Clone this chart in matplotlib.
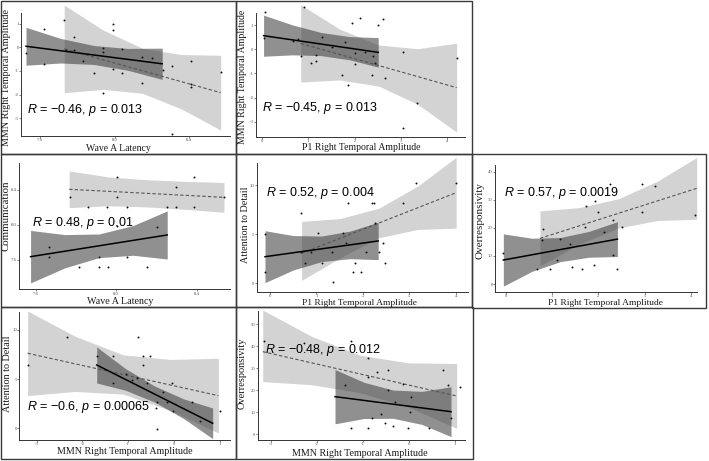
import matplotlib
matplotlib.use("Agg")
import matplotlib.pyplot as plt
from matplotlib.patches import Rectangle

plt.rcParams['axes.unicode_minus'] = False
plt.rcParams['mathtext.fontset'] = 'custom'
plt.rcParams['mathtext.it'] = 'Liberation Sans:italic'
plt.rcParams['mathtext.rm'] = 'Liberation Sans'
plt.rcParams['font.family'] = ['Liberation Serif', 'DejaVu Serif']

W, H = 709, 461

# ---------------- Panel 1: Wave A Latency vs MMN Right Temporal Amplitude
p1_x = [7.525, 7.623, 7.623, 7.73, 7.78, 7.78, 7.74, 7.83, 7.89, 7.94, 7.94, 7.94, 7.99, 7.99, 7.99,
        8.04, 8.04, 8.15, 8.15, 8.20, 8.26, 8.31, 8.31, 8.41, 8.41, 8.41, 8.57]
p1_y = [-0.23, 0.75, -0.73, 1.14, 0.44, -0.10, -0.13, -0.59, -1.07, -0.03, -0.20, -1.93, 1.0, 0.72, -0.90,
        -0.08, -1.11, -0.41, -1.51, -0.44, -0.97, -0.79, -3.68, -0.59, -1.54, -1.68, -1.04]
p1_dark_x = [7.525, 7.71, 7.89, 8.07, 8.256]
p1_dark_lo = [-0.76, -0.667, -0.729, -0.971, -1.36]
p1_dark_hi = [0.84, 0.373, 0.071, -0.051, -0.04]
p1_dark_line = ([7.525, 8.256], [0.04, -0.70])
p1_light_x = [7.73, 7.94, 8.15, 8.36, 8.57]
p1_light_lo = [-1.92, -1.78, -1.945, -2.61, -3.50]
p1_light_hi = [1.78, 0.72, -0.045, -0.31, -0.34]
p1_light_line = ([7.73, 8.57], [-0.07, -1.92])
p1_xticks = [7.6, 8.0, 8.4]
p1_xticklabels = ['7.6', '8.0', '8.4']
p1_yticks = [-3, -2, -1, 0, 1]
p1_label = "$R$ = \u22120.46, $p$ = 0.013"

# ---------------- Panel 2: P1 Right Temporal Amplitude vs MMN
p2_x = [0.06, 0.04, 0.90, 0.68, 0.79, 0.84, 1.06, 1.18, 1.18, 1.29, 1.51, 1.74, 1.80, 1.85, 1.95, 2.01, 2.01,
        2.12, 2.23, 2.37, 2.39, 2.43, 2.51, 2.61, 2.66, 3.05, 3.34, 3.05, 4.2]
p2_y = [1.52, 0.45, 1.73, 0.35, 0.42, -0.28, -0.59, -0.49, -0.24, 0.52, 0.08, -1.07, 0.31, -1.48, 1.10, -0.17,
        -0.61, 1.28, -0.10, -1.07, -0.27, -0.59, 1.0, 1.25, -1.21, -0.10, -2.24, -3.28, -0.38]
p2_dark_x = [0.04, 0.66, 1.27, 1.89, 2.51]
p2_dark_lo = [-0.29, -0.233, -0.264, -0.437, -0.74]
p2_dark_hi = [1.41, 1.007, 0.696, 0.523, 0.48]
p2_dark_line = ([0.04, 2.51], [0.56, -0.13])
p2_light_x = [0.84, 1.68, 2.52, 3.36, 4.2]
p2_light_lo = [-1.36, -1.27, -1.525, -2.28, -3.43]
p2_light_hi = [1.84, 0.83, 0.175, 0.02, 0.25]
p2_light_line = ([0.84, 4.2], [0.24, -1.59])
p2_xticks = [0, 1, 2, 3, 4]
p2_yticks = [-3, -2, -1, 0, 1]
p2_label = "$R$ = \u22120.45, $p$ = 0.013"

# ---------------- Panel 3: Wave A Latency vs Communication
p3_x = [7.77, 7.862, 7.956, 8.006, 8.006, 8.052, 8.251, 8.297, 8.297, 8.388, 8.388, 8.536, 8.006, 8.201,
        7.668, 7.668, 7.815, 7.915, 7.915, 7.961, 8.052, 8.152]
p3_y = [8.316, 8.20, 8.20, 8.552, 8.316, 8.20, 8.20, 8.43, 8.20, 8.552, 8.20, 8.316, 7.99, 7.973,
        7.752, 7.63, 7.524, 7.63, 7.524, 7.524, 7.63, 7.524]
p3_dark_x = [7.575, 7.745, 7.915, 8.085, 8.254]
p3_dark_lo = [7.338, 7.51, 7.627, 7.654, 7.611]
p3_dark_hi = [7.938, 7.89, 7.897, 7.994, 8.161]
p3_dark_line = ([7.575, 8.254], [7.638, 7.886])
p3_light_x = [7.767, 7.959, 8.151, 8.344, 8.536]
p3_light_lo = [8.198, 8.22, 8.207, 8.179, 8.146]
p3_light_hi = [8.618, 8.55, 8.517, 8.499, 8.486]
p3_light_line = ([7.767, 8.536], [8.408, 8.316])
p3_xticks = [7.6, 8.0, 8.4]
p3_xticklabels = ['7.6', '8.0', '8.4']
p3_yticks = [7.6, 8.0, 8.4]
p3_yticklabels = ['7.6', '8.0', '8.4']
p3_label = "$R$ = 0.48, $p$ = 0.01"

# ---------------- Panel 4: P1 Right Temporal Amplitude vs Attention to Detail
p4_x = [-0.108, -0.108, 0.67, 0.67, 0.75, 0.88, 1.03, 1.11, 1.33, 1.36, 1.58, 1.63, 1.68, 1.79, 1.84,
        1.96, 2.06, 2.19, 2.23, 2.26, 2.34, 2.44, 2.47, 2.87, 3.15, 4.01]
p4_y = [4.98, 1.12, 7.19, 3.15, 2.1, 3.15, 5.15, 2.1, 3.15, 0.17, 5.15, 4.14, 8.2, 1.12, 2.1,
        1.12, 3.15, 8.2, 8.2, 6.17, 3.15, 4.14, 2.1, 8.2, 10.17, 10.17]
p4_dark_x = [-0.108, 0.5, 1.11, 1.72, 2.33]
p4_dark_lo = [0.07, 1.36, 2.21, 2.51, 2.41]
p4_dark_hi = [5.35, 4.86, 4.81, 5.31, 6.21]
p4_dark_line = ([-0.108, 2.33], [2.71, 4.31])
p4_light_x = [0.68, 1.51, 2.345, 3.18, 4.01]
p4_light_lo = [0.3, 2.59, 4.64, 5.48, 5.62]
p4_light_hi = [6.3, 6.59, 7.64, 9.88, 12.82]
p4_light_line = ([0.68, 4.01], [3.05, 9.22])
p4_xticks = [0, 1, 2, 3, 4]
p4_yticks = [0, 5, 10]
p4_label = "$R$ = 0.52, $p$ = 0.004"

# ---------------- Panel 5: P1 Right Temporal Amplitude vs Overresponsivity
p5_x = [-0.05, 0.67, 0.78, 0.80, 0.96, 1.10, 1.17, 1.39, 1.42, 1.64, 1.71, 1.73, 1.91, 1.93, 2.0, 2.12,
        2.25, 2.31, 2.31, 2.41, 2.5, 2.95, 2.95, 3.22, 4.09]
p5_y = [11.16, 5.22, 15.67, 19.47, 5.22, 8.55, 16.0, 14.24, 5.93, 5.22, 20.4, 27.77, 6.77, 29.55, 25.5, 18.6,
        35.6, 22.8, 10.33, 5.22, 20.4, 35.6, 25.5, 34.9, 24.6]
p5_dark_x = [-0.05, 0.565, 1.18, 1.795, 2.41]
p5_dark_lo = [-0.75, 4.51, 7.98, 9.54, 9.8]
p5_dark_hi = [17.85, 16.31, 16.58, 18.74, 22.2]
p5_dark_line = ([-0.05, 2.41], [8.55, 16.0])
p5_light_x = [0.74, 1.585, 2.43, 3.275, 4.12]
p5_light_lo = [6.46, 14.21, 19.96, 22.62, 23.07]
p5_light_hi = [26.06, 27.21, 30.36, 36.62, 45.07]
p5_light_line = ([0.74, 4.12], [16.26, 34.07])
p5_xticks = [0, 1, 2, 3, 4]
p5_yticks = [0, 10, 20, 30, 40]
p5_label = "$R$ = 0.57, $p$ = 0.0019"

# ---------------- Panel 6: MMN Right Temporal Amplitude vs Attention to Detail
p6_x = [-3.196, -2.33, -1.69, -1.327, -1.327, -0.78, -0.67, -0.67, -0.53, -0.82, -0.6, -0.38, -0.38, -0.24,
        -0.16, -0.055, -0.03, -0.4, 0.38, 0.56, 1.0, -1.04, -0.93]
p6_y = [6.44, 9.25, 7.39, 7.39, 4.58, 9.25, 6.44, 7.39, 7.39, 5.08, 4.58, 2.64, -0.1, 3.66,
        2.71, 4.58, 1.76, 2.1, 2.71, 0.75, 1.76, 5.53, 4.92]
p6_dark_x = [-1.69, -1.0575, -0.425, 0.2075, 0.84]
p6_dark_lo = [4.61, 3.86, 2.66, 0.99, -1.05]
p6_dark_hi = [8.27, 6.06, 4.30, 2.99, 2.07]
p6_dark_line = ([-1.69, 0.84], [6.44, 0.51])
p6_light_x = [-3.196, -2.156, -1.116, -0.076, 0.964]
p6_light_lo = [3.33, 3.75, 3.48, 1.80, -0.48]
p6_light_hi = [11.93, 9.35, 7.48, 7.0, 7.12]
p6_light_line = ([-3.196, 0.964], [7.63, 3.32])
p6_xticks = [-3, -2, -1, 0, 1]
p6_yticks = [0, 5, 10]
p6_label = "$R$ = \u22120.6, $p$ = 0.00065"

# ---------------- Panel 7: MMN Right Temporal Amplitude vs Overresponsivity
p7_x = [-3.145, -2.275, -1.26, -1.26, -1.39, -0.884, -0.884, -0.884, -0.81, -0.70, -0.61, -0.52, -0.449,
        -0.449, -0.34, -0.30, -0.123, -0.014, 0.02, 0.04, 0.44, 0.746, 0.855, 0.913, 1.1]
p7_y = [42.45, 41.24, 42.45, 2.7, 22.36, 34.74, 26.13, 2.7, 7.25, 28.1, 9.06, 5.0, 29.15,
        20.1, 3.78, 14.8, 22.8, 2.7, 10.27, 17.07, 2.7, 29.15, 22.36, 7.25, 21.6]
p7_dark_x = [-1.609, -0.9785, -0.348, 0.2825, 0.913]
p7_dark_lo = [4.77, 7.17, 7.27, 4.47, -1.03]
p7_dark_hi = [29.37, 23.57, 20.07, 19.47, 21.57]
p7_dark_line = ([-1.609, 0.913], [17.07, 10.27])
p7_light_x = [-3.18, -2.126, -1.072, -0.018, 1.036]
p7_light_lo = [23.9, 22.5, 18.9, 12.4, 2.7]
p7_light_hi = [56.3, 44.5, 35.9, 32.4, 32.1]
p7_light_line = ([-3.18, 1.036], [37.46, 17.37])
p7_xticks = [-3, -2, -1, 0, 1]
p7_yticks = [0, 10, 20, 30, 40, 50]
p7_label = "$R$ = \u22120.48, $p$ = 0.012"

LIGHT = '#d3d3d3'
DARK = '#404040'

fig = plt.figure(figsize=(W / 100, H / 100), dpi=100)


def box(x0, y0, x1, y1):
    fig.add_artist(Rectangle((x0 / W, 1 - y1 / H), (x1 - x0) / W, (y1 - y0) / H,
                             transform=fig.transFigure, fill=False, ec='#3a3a3a', lw=1.0))


def panel(rect, xlim, ylim, spine_top, px, py, dx, dlo, dhi, dline, lx, llo, lhi, lline,
          xticks, yticks, label, label_xy, xticklabels=None, yticklabels=None):
    left, top, right, bottom = rect
    ax = fig.add_axes([left / W, 1 - bottom / H, (right - left) / W, (bottom - top) / H])
    ax.set_xlim(*xlim)
    ax.set_ylim(*ylim)
    ax.fill_between(lx, llo, lhi, color=LIGHT, lw=0, zorder=1)
    ax.fill_between(dx, dlo, dhi, color=DARK, alpha=0.58, lw=0, zorder=2)
    ax.plot(*lline, color='#555555', lw=0.8, ls=(0, (3, 2)), zorder=3)
    ax.plot(*dline, color='black', lw=1.1, zorder=3)
    ax.plot(px, py, 'o', ms=1.4, color='#111111', mec='none', zorder=4)
    ax.text(label_xy[0], label_xy[1], label, fontfamily='Liberation Sans', fontsize=9,
            va='center', ha='left', zorder=5)
    for s in ('top', 'right'):
        ax.spines[s].set_visible(False)
    for s in ('left', 'bottom'):
        ax.spines[s].set_color('#333333')
        ax.spines[s].set_linewidth(0.7)
    ax.spines['left'].set_bounds(ylim[0], spine_top)
    ax.set_xticks(xticks)
    ax.set_yticks(yticks)
    if xticklabels is not None:
        ax.set_xticklabels(xticklabels)
    if yticklabels is not None:
        ax.set_yticklabels(yticklabels)
    ax.tick_params(length=1.2, width=0.5, colors='#555555', labelsize=3.4, pad=0.5)
    ax.patch.set_alpha(0)
    return ax


def labels(xl, xl_xy, xl_size, yl, yl_xy, yl_size):
    fig.text(xl_xy[0] / W, 1 - xl_xy[1] / H, xl, ha='center', va='center', fontsize=xl_size,
             color='#1a1a1a')
    fig.text(yl_xy[0] / W, 1 - yl_xy[1] / H, yl, ha='center', va='center', fontsize=yl_size,
             rotation=90, color='#1a1a1a')


# boxes
box(1, 1, 236, 154)
box(236, 1, 472, 154)
box(1, 154, 236, 307)
box(236, 154, 472, 307)
box(472, 154, 706, 308)
box(1, 307, 236, 459)
box(236, 307, 473, 459)

panel((21, 4.6, 230, 136), (7.498, 8.62), (-3.75, 1.80), 1.43, p1_x, p1_y,
      p1_dark_x, p1_dark_lo, p1_dark_hi, p1_dark_line,
      p1_light_x, p1_light_lo, p1_light_hi, p1_light_line,
      p1_xticks, p1_yticks, p1_label, (7.53, -2.66), xticklabels=p1_xticklabels)
labels('Wave A Latency', (118, 148), 7, 'MMN Right Temporal Amplitude', (7, 77), 7.3)

panel((255.7, 3.3, 465, 136.7), (-0.13, 4.38), (-3.62, 1.9), 1.48, p2_x, p2_y,
      p2_dark_x, p2_dark_lo, p2_dark_hi, p2_dark_line,
      p2_light_x, p2_light_lo, p2_light_hi, p2_light_line,
      p2_xticks, p2_yticks, p2_label, (0.0, -2.42))
labels('P1 Right Temporal Amplitude', (361.7, 147.5), 7, 'MMN Right Temporal Amplitude', (242.3, 77), 7.1)

panel((19.3, 162.7, 230, 289.3), (7.519, 8.566), (7.265, 8.712), 8.712, p3_x, p3_y,
      p3_dark_x, p3_dark_lo, p3_dark_hi, p3_dark_line,
      p3_light_x, p3_light_lo, p3_light_hi, p3_light_line,
      p3_xticks, p3_yticks, p3_label, (7.58, 8.019),
      xticklabels=p3_xticklabels, yticklabels=p3_yticklabels)
labels('Wave A Latency', (120, 301), 7.2, 'Communication', (6.5, 215.3), 7.8)

panel((256.7, 156, 468, 291.7), (-0.287, 4.265), (-0.85, 12.95), 12.27, p4_x, p4_y,
      p4_dark_x, p4_dark_lo, p4_dark_hi, p4_dark_line,
      p4_light_x, p4_light_lo, p4_light_hi, p4_light_line,
      p4_xticks, p4_yticks, p4_label, (-0.09, 9.15))
labels('P1 Right Temporal Amplitude', (359, 302.6), 6.8, 'Attention to Detail', (245, 225), 7.3)

panel((495, 157.1, 696.7, 291.7), (-0.23, 4.12), (-2.73, 45.2), 42.4, p5_x, p5_y,
      p5_dark_x, p5_dark_lo, p5_dark_hi, p5_dark_line,
      p5_light_x, p5_light_lo, p5_light_hi, p5_light_line,
      p5_xticks, p5_yticks, p5_label, (-0.04, 32.3))
labels('P1 Right Temporal Amplitude', (605, 302.6), 6.8, 'Overresponsivity', (480, 220.7), 8.0)

panel((19.3, 310.8, 230, 440), (-3.378, 1.218), (-1.19, 11.95), 11.86, p6_x, p6_y,
      p6_dark_x, p6_dark_lo, p6_dark_hi, p6_dark_line,
      p6_light_x, p6_light_lo, p6_light_hi, p6_light_line,
      p6_xticks, p6_yticks, p6_label, (-3.2, 2.2))
labels('MMN Right Temporal Amplitude', (125, 451.7), 7.2, 'Attention to Detail', (7.3, 374), 7.3)

panel((257.7, 309, 465, 440), (-3.29, 1.217), (-2.57, 56.8), 55.9, p7_x, p7_y,
      p7_dark_x, p7_dark_lo, p7_dark_hi, p7_dark_line,
      p7_light_x, p7_light_lo, p7_light_hi, p7_light_line,
      p7_xticks, p7_yticks, p7_label, (-3.13, 38.2))
labels('MMN Right Temporal Amplitude', (360, 453.3), 7.2, 'Overresponsivity', (242.3, 373.3), 7.5)

fig.savefig('out.png', dpi=100)
